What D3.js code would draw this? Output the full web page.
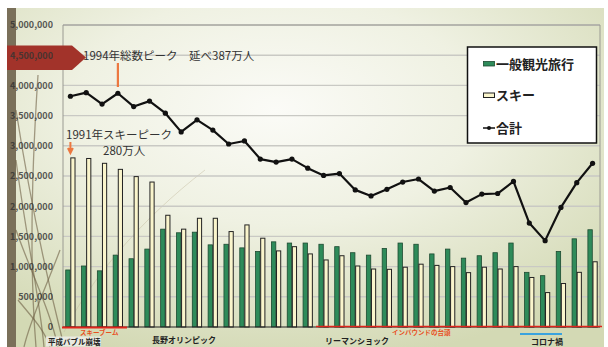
<!DOCTYPE html>
<html><head><meta charset="utf-8">
<script src="https://cdn.jsdelivr.net/npm/d3@7"></script>
<style>
body{margin:0;background:#fff}
svg{display:block}
text{font-family:"Noto Sans CJK JP","Liberation Sans",sans-serif}
</style>
</head><body>
<svg id="c" width="608" height="347"></svg>
<script>
// ---- data ----
const years = [1991,1992,1993,1994,1995,1996,1997,1998,1999,2000,
               2001,2002,2003,2004,2005,2006,2007,2008,2009,2010,
               2011,2012,2013,2014,2015,2016,2017,2018,2019,2020,
               2021,2022,2023,2024];
const general = [944000,1010000,930000,1190000,1130000,1290000,1620000,1560000,1570000,1360000,
                 1370000,1310000,1250000,1410000,1390000,1390000,1370000,1330000,1230000,1190000,
                 1300000,1390000,1370000,1210000,1290000,1140000,1180000,1230000,1390000,905000,
                 850000,1250000,1460000,1610000];
const ski = [2800000,2790000,2710000,2610000,2490000,2400000,1850000,1620000,1800000,1800000,
             1580000,1690000,1470000,1260000,1330000,1210000,1110000,1180000,1010000,960000,
             955000,990000,1040000,1020000,1000000,900000,990000,960000,1000000,820000,
             570000,720000,905000,1080000];
const total = [3820000,3880000,3690000,3870000,3650000,3740000,3540000,3230000,3430000,3260000,
               3030000,3080000,2780000,2730000,2780000,2630000,2510000,2540000,2270000,2170000,
               2280000,2400000,2450000,2250000,2310000,2060000,2200000,2210000,2410000,1720000,
               1430000,1980000,2390000,2710000];
const yTicks = [0,500000,1000000,1500000,2000000,2500000,3000000,3500000,4000000,4500000,5000000];
const seriesNames = ["一般観光旅行","スキー","合計"];

// ---- layout ----
const svg = d3.select("#c");
const L = 63, R = 600, T = 25, B = 327;

const defs = svg.append("defs");
const rg = defs.append("radialGradient").attr("id","bg")
  .attr("cx","45%").attr("cy","30%").attr("r","75%");
rg.append("stop").attr("offset","0").attr("stop-color","#fbfbf7");
rg.append("stop").attr("offset","0.45").attr("stop-color","#eff1e2");
rg.append("stop").attr("offset","1").attr("stop-color","#d3d9b4");

svg.append("rect").attr("x",7).attr("y",8).attr("width",597).attr("height",339).attr("fill","url(#bg)");
svg.append("rect").attr("x",7).attr("y",8).attr("width",9).attr("height",339).attr("fill","#7a705a");

// decorative strands
const strands = [
  "M16,110 C30,200 45,270 62,338",
  "M38,75 C33,150 28,250 36,347",
  "M16,230 C30,270 50,310 58,347",
  "M60,250 C45,290 30,320 24,347",
  "M18,300 C30,315 45,330 50,347",
  "M64,332 C90,280 140,220 205,170",
  "M16,160 C25,230 40,300 44,347"
];
svg.append("g").selectAll("path").data(strands).join("path")
  .attr("d",d=>d).attr("fill","none")
  .attr("stroke",(d,i)=> i===5 ? "#c2b89c" : "#6e5f45")
  .attr("stroke-opacity",(d,i)=> i===5 ? 0.45 : 0.6)
  .attr("stroke-width",(d,i)=> i===5 ? 1 : 1.3);

// scales
const x = d3.scaleBand().domain(years).range([62.5,600.5]).paddingInner(0).paddingOuter(0);
const cx = d => x(d) + x.bandwidth()/2;
const sub = d3.scaleBand().domain(["g","s"]).range([-5,5]).padding(0);
const y = d3.scaleLinear().domain([0,5000000]).range([B,T]);

// grid
svg.append("g").selectAll("line").data(yTicks.filter(d=>d>0)).join("line")
  .attr("x1",L).attr("x2",R).attr("y1",d=>y(d)).attr("y2",d=>y(d))
  .attr("stroke","#c9c9c4").attr("stroke-width",1.4);
// frame
svg.append("path").attr("d",`M${L},${B} V${T} H${R} V${B}`).attr("fill","none")
  .attr("stroke","#9a9a92").attr("stroke-width",1);

// red banner
svg.append("path").attr("d","M7,45.5 L72,45.5 L86,57.5 L72,70 L7,70 Z").attr("fill","#a2332a");

// y-axis labels
const yAxis = d3.axisLeft(y).tickValues(yTicks).tickFormat(d3.format(",")).tickSize(0).tickPadding(0);
const ya = svg.append("g").attr("transform","translate(53,0)").call(yAxis);
ya.select(".domain").remove();
ya.selectAll("text").attr("font-family","Liberation Sans, Arial, sans-serif")
  .attr("font-size",9).attr("fill","#333").attr("font-weight","bold").attr("opacity",0.8);

// bars
const bars = svg.append("g");
bars.selectAll(".g").data(years).join("rect").attr("class","g")
  .attr("x",(d)=>cx(d)+sub("g")+0.3).attr("width",sub.bandwidth()-0.6)
  .attr("y",(d,i)=>y(general[i])).attr("height",(d,i)=>B-y(general[i]))
  .attr("fill","#2e8b5a").attr("stroke","#1c4a30").attr("stroke-width",0.8);
bars.selectAll(".s").data(years).join("rect").attr("class","s")
  .attr("x",(d)=>cx(d)+sub("s")+0.4).attr("width",sub.bandwidth()-0.8)
  .attr("y",(d,i)=>y(ski[i])).attr("height",(d,i)=>B-y(ski[i]))
  .attr("fill","#faf5cc").attr("stroke","#222").attr("stroke-width",1);

// baseline
svg.append("line").attr("x1",L).attr("x2",R).attr("y1",B).attr("y2",B).attr("stroke","#222").attr("stroke-width",1.2);
// period lines
svg.append("line").attr("x1",62).attr("x2",127).attr("y1",327.5).attr("y2",327.5).attr("stroke","#e0241b").attr("stroke-width",2);
svg.append("line").attr("x1",316).attr("x2",602).attr("y1",326.5).attr("y2",326.5).attr("stroke","#e0241b").attr("stroke-width",1.6);
svg.append("line").attr("x1",520).attr("x2",562).attr("y1",334).attr("y2",334).attr("stroke","#3aa3de").attr("stroke-width",2);

// total line
const line = d3.line().x((d,i)=>cx(years[i])).y(d=>y(d));
svg.append("path").datum(total).attr("d",line).attr("fill","none")
  .attr("stroke","#111").attr("stroke-width",2.2).attr("stroke-linejoin","round");
svg.append("g").selectAll("circle").data(total).join("circle")
  .attr("cx",(d,i)=>cx(years[i])).attr("cy",d=>y(d)).attr("r",2.6).attr("fill","#111");

// annotations
svg.append("text").attr("x",83).attr("y",59.5).attr("font-size",11.5).attr("fill","#333")
  .text("1994年総数ピーク　延べ387万人");
svg.append("line").attr("x1",cx(1994)).attr("x2",cx(1994)).attr("y1",63).attr("y2",87)
  .attr("stroke","#ec7840").attr("stroke-width",2.2);
svg.append("text").attr("x",66).attr("y",139).attr("font-size",11.5).attr("fill","#333")
  .text("1991年スキーピーク");
svg.append("text").attr("x",103).attr("y",155).attr("font-size",11.5).attr("fill","#333")
  .text("280万人");
svg.append("path").attr("d",`M${cx(1991)},142 V149 M${cx(1991)-2.5},148 L${cx(1991)},153 L${cx(1991)+2.5},148`)
  .attr("stroke","#ec7840").attr("stroke-width",2).attr("fill","#ec7840");

// bottom labels
svg.append("rect").attr("x",46).attr("y",336.5).attr("width",55).attr("height",10).attr("fill","#ebebe6").attr("opacity",0.9);
const bl = [
  {t:"平成バブル崩壊",x:48,y:344.5,c:"#222",s:7.5},
  {t:"長野オリンピック",x:152,y:343,c:"#222",s:8},
  {t:"リーマンショック",x:325,y:344,c:"#222",s:8},
  {t:"コロナ禍",x:531,y:345,c:"#222",s:8},
  {t:"スキーブーム",x:80,y:334.5,c:"#e8501f",s:6.5},
  {t:"インバウンドの台頭",x:392,y:335,c:"#e8501f",s:6.5}
];
svg.append("g").selectAll("text").data(bl).join("text")
  .attr("x",d=>d.x).attr("y",d=>d.y).attr("font-size",d=>d.s).attr("fill",d=>d.c)
  .attr("font-weight","bold").text(d=>d.t);

// legend
const lg = svg.append("g");
lg.append("rect").attr("x",467.5).attr("y",47).attr("width",129).attr("height",96)
  .attr("fill","#fff").attr("stroke","#111").attr("stroke-width",1.5);
lg.append("rect").attr("x",483.5).attr("y",61.5).attr("width",11).attr("height",4.5)
  .attr("fill","#2e8b5a").attr("stroke","#1c4a30").attr("stroke-width",0.8);
lg.append("rect").attr("x",483.5).attr("y",93).attr("width",11).attr("height",4.5)
  .attr("fill","#faf5cc").attr("stroke","#222").attr("stroke-width",1);
lg.append("line").attr("x1",483).attr("x2",495).attr("y1",128).attr("y2",128).attr("stroke","#111").attr("stroke-width",1.5);
lg.append("circle").attr("cx",489).attr("cy",128).attr("r",2).attr("fill","#111");
lg.selectAll(".lt").data(seriesNames).join("text").attr("class","lt")
  .attr("x",496).attr("y",(d,i)=>[68.5,100,132.5][i]).attr("font-size",13).attr("font-weight","bold")
  .attr("fill","#222").text(d=>d);
</script>
</body></html>
